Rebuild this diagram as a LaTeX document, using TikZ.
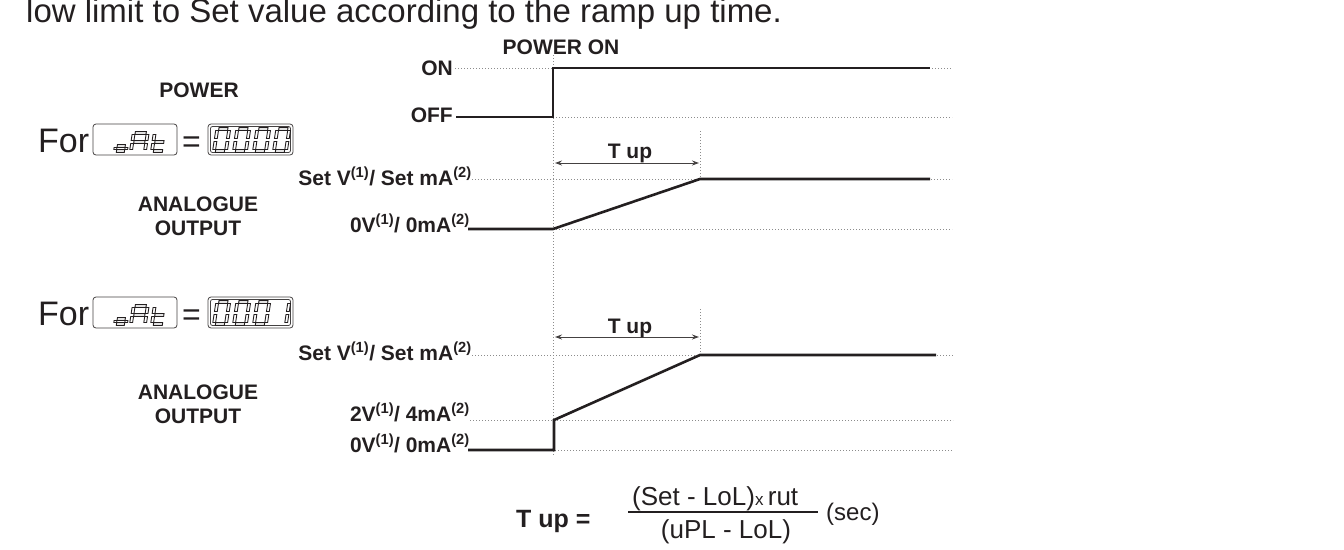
\documentclass[tikz,border=0pt]{standalone}
\usepackage{fontspec}
\setmainfont{Liberation Sans}
\usetikzlibrary{arrows.meta}
\definecolor{ink}{HTML}{231F20}
\definecolor{dotc}{HTML}{8C8C8C}

% one segment of a seven-segment glyph (local units: pt, y up)
\newcommand\segpart[1]{%
  \if#1a\draw[segline] (\sgG,\sgH-\sgT) rectangle (\sgW-\sgG,\sgH+\sgT);\fi
  \if#1b\draw[segline] (\sgW-\sgT,\sgH/2+\sgG) rectangle (\sgW+\sgT,\sgH-\sgG);\fi
  \if#1c\draw[segline] (\sgW-\sgT,\sgG) rectangle (\sgW+\sgT,\sgH/2-\sgG);\fi
  \if#1d\draw[segline] (\sgG,-\sgT) rectangle (\sgW-\sgG,\sgT);\fi
  \if#1e\draw[segline] (-\sgT,\sgG) rectangle (\sgT,\sgH/2-\sgG);\fi
  \if#1f\draw[segline] (-\sgT,\sgH/2+\sgG) rectangle (\sgT,\sgH-\sgG);\fi
  \if#1g\draw[segline] (\sgG,\sgH/2-\sgT) rectangle (\sgW-\sgG,\sgH/2+\sgT);\fi}
% glyph: #1 x of lower left, #2 y of bottom, #3 width, #4 height, #5 segments
\newcommand\segglyph[5]{%
  \begin{scope}[shift={(#1,#2)},x=1pt,y=1pt,xslant=0.15]
    \def\sgW{#3}\def\sgH{#4}\def\sgT{1.4}\def\sgG{1.5}%
    \foreach \s in {#5}{\segpart{\s}}
  \end{scope}}

\begin{document}
\begin{tikzpicture}[x=1pt,y=-1pt,
  lbl/.style={font=\fontsize{21}{24}\selectfont\bfseries,text=ink,inner sep=0pt},
  plain/.style={font=\fontsize{26}{30}\selectfont,text=ink,inner sep=0pt},
  sig/.style={draw=ink,line width=2.6pt,line join=miter},
  guide/.style={draw=dotc,line width=0.9pt,dash pattern=on 1pt off 2pt},
  dim/.style={draw=ink!85,line width=1pt,{Stealth[length=7pt,width=5pt]}-{Stealth[length=7pt,width=5pt]}},
  dispbox/.style={draw=ink!85,line width=0.8pt,rounded corners=3pt},
  segline/.style={draw=ink,line width=0.9pt}]
\useasboundingbox (0,0) rectangle (1344,549);

% heading line
\node[plain,font=\fontsize{33}{38}\selectfont,anchor=base west] (intro) at (26,22)
  {low limit to Set value according to the ramp up time.};

% ---------- power trace ----------
\node[lbl,anchor=base] (pwron) at (561,54) {POWER ON};
\node[lbl,anchor=base east] (on) at (453,75) {ON};
\node[lbl,anchor=base east] (off) at (453,122) {OFF};
\node[lbl,anchor=base] (power) at (199,97) {POWER};

\coordinate (onA) at (455,68);   \coordinate (onB) at (952,68);
\coordinate (offA) at (553,117); \coordinate (offB) at (952,117);
\draw[guide] (onA) -- (onB);
\draw[guide] (offA) -- (offB);
\coordinate (vt) at (553,55); \coordinate (vb) at (553,456);
\draw[guide] (vt) -- (vb);

\coordinate (p0) at (456,117); \coordinate (p1) at (553,117);
\coordinate (p2) at (553,68);  \coordinate (p3) at (930,68);
\draw[sig] (p0) -- (p1) -- (p2) -- (p3);

% ---------- first display setting ----------
\node[plain,font=\fontsize{34}{38}\selectfont,anchor=base west] (for1) at (38,152) {For};
\draw[dispbox] (93,124) rectangle (177,155);
\segglyph{115}{151}{11}{10}{c,d,e,g}
\segglyph{131}{151}{14}{18}{a,b,c,e,f,g}
\segglyph{152}{151}{12}{18}{d,e,f,g}
\node[plain,font=\fontsize{32}{36}\selectfont,anchor=base] (eq1) at (191.5,152) {=};
\draw[dispbox] (208,124) rectangle (293,155);
\draw[dispbox,rounded corners=2pt] (210.5,126.5) rectangle (290.5,152.5);
\segglyph{214}{151}{12}{22}{a,b,c,d,e,f}
\segglyph{234}{151}{12}{22}{a,b,c,d,e,f}
\segglyph{254}{151}{12}{22}{a,b,c,d,e,f}
\segglyph{274}{151}{12}{22}{a,b,c,d,e,f}

\node[lbl,align=center,anchor=center] (ao1) at (198,216) {ANALOGUE\\OUTPUT};
\node[lbl,anchor=base east] (set1) at (472,185) {Set V\textsuperscript{(1)}/ Set mA\textsuperscript{(2)}};
\node[lbl,anchor=base east] (zero1) at (470,232) {0V\textsuperscript{(1)}/ 0mA\textsuperscript{(2)}};

\coordinate (s1A) at (472,179); \coordinate (s1B) at (952,179);
\coordinate (z1A) at (553,229); \coordinate (z1B) at (952,229);
\draw[guide] (s1A) -- (s1B);
\draw[guide] (z1A) -- (z1B);
\coordinate (m1t) at (700,131); \coordinate (m1b) at (700,179);
\draw[guide] (m1t) -- (m1b);
\coordinate (d1A) at (555,163); \coordinate (d1B) at (699,163);
\draw[dim] (d1A) -- (d1B);
\node[lbl,anchor=base] (tup1) at (630,158) {T up};

\coordinate (a0) at (468,229); \coordinate (a1) at (553,229);
\coordinate (a2) at (700,179); \coordinate (a3) at (930,179);
\draw[sig] (a0) -- (a1) -- (a2) -- (a3);

% ---------- second display setting ----------
\node[plain,font=\fontsize{34}{38}\selectfont,anchor=base west] (for2) at (38,325) {For};
\draw[dispbox] (93,297) rectangle (177,328);
\segglyph{115}{324}{11}{10}{c,d,e,g}
\segglyph{131}{324}{14}{18}{a,b,c,e,f,g}
\segglyph{152}{324}{12}{18}{d,e,f,g}
\node[plain,font=\fontsize{32}{36}\selectfont,anchor=base] (eq2) at (191.5,325) {=};
\draw[dispbox] (208,297) rectangle (293,328);
\draw[dispbox,rounded corners=2pt] (210.5,299.5) rectangle (290.5,325.5);
\segglyph{214}{324}{12}{22}{a,b,c,d,e,f}
\segglyph{234}{324}{12}{22}{a,b,c,d,e,f}
\segglyph{254}{324}{12}{22}{a,b,c,d,e,f}
\segglyph{274}{324}{12}{22}{b,c}

\node[lbl,align=center,anchor=center] (ao2) at (198,404) {ANALOGUE\\OUTPUT};
\node[lbl,anchor=base east] (set2) at (472,360) {Set V\textsuperscript{(1)}/ Set mA\textsuperscript{(2)}};
\node[lbl,anchor=base east] (two2) at (470,421) {2V\textsuperscript{(1)}/ 4mA\textsuperscript{(2)}};
\node[lbl,anchor=base east] (zero2) at (470,452) {0V\textsuperscript{(1)}/ 0mA\textsuperscript{(2)}};

\coordinate (s2A) at (472,355); \coordinate (s2B) at (953,355);
\coordinate (t2A) at (470,420); \coordinate (t2B) at (953,420);
\coordinate (z2A) at (555,450); \coordinate (z2B) at (953,450);
\draw[guide] (s2A) -- (s2B);
\draw[guide] (t2A) -- (t2B);
\draw[guide] (z2A) -- (z2B);
\coordinate (m2t) at (700,309); \coordinate (m2b) at (700,355);
\draw[guide] (m2t) -- (m2b);
\coordinate (d2A) at (555,337); \coordinate (d2B) at (699,337);
\draw[dim] (d2A) -- (d2B);
\node[lbl,anchor=base] (tup2) at (630,333) {T up};

\coordinate (b0) at (468,450); \coordinate (b1) at (554,450);
\coordinate (b2) at (554,420); \coordinate (b3) at (700,355);
\coordinate (b4) at (936,355);
\draw[sig] (b0) -- (b1) -- (b2) -- (b3) -- (b4);

% ---------- ramp time formula ----------
\node[text=ink,inner sep=0pt,font=\fontsize{25}{28}\selectfont\bfseries,anchor=base west] (tupf) at (516,527) {T up =};
\node[plain,anchor=base west] (num) at (632,505) {(Set - LoL){\fontsize{17}{17}\selectfont x}\,rut};
\node[plain,anchor=base] (den) at (726,538) {(uPL - LoL)};
\coordinate (fl) at (628,512); \coordinate (fr) at (818,512);
\draw[draw=ink,line width=1.1pt] (fl) -- (fr);
\node[plain,font=\fontsize{24}{28}\selectfont,anchor=base west] (sec) at (826,520) {(sec)};
\end{tikzpicture}
\end{document}
